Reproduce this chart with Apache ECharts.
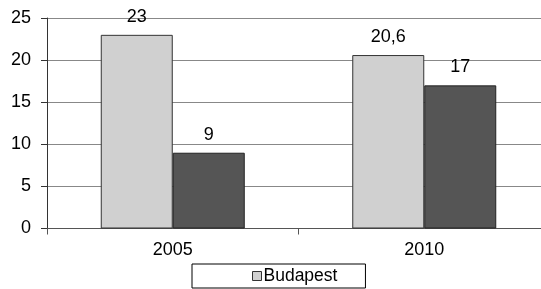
<!DOCTYPE html>
<html><head><meta charset="utf-8">
<script src="https://cdn.jsdelivr.net/npm/echarts@6/dist/echarts.min.js"></script>
<style>html,body{margin:0;padding:0;background:#fff}#c{width:541px;height:289px}</style>
</head><body><div id="c"></div>
<script>
const categories = ['2005', '2010'];
const budapest = [23, 20.6];
const other = [9, 17];
const yTicks = [0, 5, 10, 15, 20, 25];

const chart = echarts.init(document.getElementById('c'), null, {renderer: 'canvas'});
const font = 'Liberation Sans, Arial, sans-serif';
const lbl = {
  show: true, position: 'top', distance: 9,
  fontFamily: font, fontSize: 18, color: '#000',
  formatter: p => String(p.value).replace('.', ',')
};
chart.setOption({
  animation: false,
  backgroundColor: '#fff',
  grid: {left: 47, top: 18, height: 210.5, width: 503, containLabel: false, outerBoundsMode: 'none'},
  legend: {
    data: ['Budapest'], left: 192, top: 264,
    padding: [3, 28, 3, 60],
    borderColor: '#000', borderWidth: 1,
    icon: 'rect', itemWidth: 9, itemHeight: 9, itemGap: 3,
    itemStyle: {borderColor: '#333', borderWidth: 1},
    textStyle: {fontFamily: font, fontSize: 17.5, color: '#000', padding: [0, 0, 0, -3]}
  },
  xAxis: {
    type: 'category', data: categories,
    axisLine: {lineStyle: {color: '#555', width: 1}},
    axisTick: {show: true, length: 6, inside: false, lineStyle: {color: '#555'}},
    axisLabel: {fontFamily: font, fontSize: 18, color: '#000', margin: 13}
  },
  yAxis: {
    type: 'value', min: yTicks[0], max: yTicks[yTicks.length - 1], interval: 5,
    axisLine: {show: true, lineStyle: {color: '#333', width: 1}},
    axisTick: {show: true, length: 6, lineStyle: {color: '#333'}},
    axisLabel: {fontFamily: font, fontSize: 18, color: '#000', margin: 16},
    splitLine: {lineStyle: {color: '#888', width: 1}}
  },
  series: [
    {name: 'Budapest', type: 'bar', data: budapest, barWidth: 72, barGap: '0%',
     itemStyle: {color: '#d0d0d0', borderColor: '#333', borderWidth: 1}, label: lbl},
    {name: 'Vidék', type: 'bar', data: other, barWidth: 72,
     itemStyle: {color: '#555555', borderColor: '#222', borderWidth: 1}, label: lbl}
  ]
});
</script></body></html>
